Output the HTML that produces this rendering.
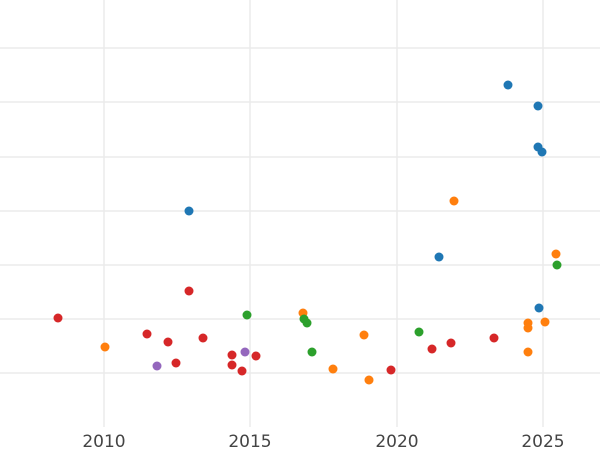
<!DOCTYPE html>
<html><head><style>body{margin:0;background:#fff}svg{display:block}</style></head><body>
<svg width="600" height="450" xmlns="http://www.w3.org/2000/svg">
<g stroke="#ebebeb" stroke-width="1.5">
<line x1="0" x2="600" y1="48" y2="48"/><line x1="0" x2="600" y1="102" y2="102"/>
<line x1="0" x2="600" y1="157" y2="157"/><line x1="0" x2="600" y1="211" y2="211"/>
<line x1="0" x2="600" y1="265" y2="265"/><line x1="0" x2="600" y1="319" y2="319"/>
<line x1="0" x2="600" y1="373" y2="373"/>
<line x1="104" x2="104" y1="0" y2="427"/><line x1="250" x2="250" y1="0" y2="427"/>
<line x1="397" x2="397" y1="0" y2="427"/><line x1="543" x2="543" y1="0" y2="427"/>
</g>
<g font-family="DejaVu Sans, sans-serif" font-size="17" fill="#444" text-anchor="middle">
<text x="104" y="447">2010</text><text x="250" y="447">2015</text><text x="397" y="447">2020</text><text x="543" y="447">2025</text>
</g>
<g fill="#1f77b4">
<circle cx="508" cy="85" r="4.5"/><circle cx="538" cy="106" r="4.5"/><circle cx="538" cy="147" r="4.5"/><circle cx="542" cy="152" r="4.5"/>
<circle cx="189" cy="211" r="4.5"/><circle cx="439" cy="257" r="4.5"/><circle cx="539" cy="308" r="4.5"/>
</g>
<g fill="#ff7f0e">
<circle cx="454" cy="201" r="4.5"/><circle cx="556" cy="254" r="4.5"/><circle cx="303" cy="313" r="4.5"/>
<circle cx="528" cy="323" r="4.5"/><circle cx="545" cy="322" r="4.5"/><circle cx="528" cy="328" r="4.5"/>
<circle cx="364" cy="335" r="4.5"/><circle cx="105" cy="347" r="4.5"/><circle cx="528" cy="352" r="4.5"/>
<circle cx="333" cy="369" r="4.5"/><circle cx="369" cy="380" r="4.5"/>
</g>
<g fill="#2ca02c">
<circle cx="557" cy="265" r="4.5"/><circle cx="247" cy="315" r="4.5"/><circle cx="304" cy="319" r="4.5"/>
<circle cx="307" cy="323" r="4.5"/><circle cx="419" cy="332" r="4.5"/><circle cx="312" cy="352" r="4.5"/>
</g>
<g fill="#d62728">
<circle cx="58" cy="318" r="4.5"/><circle cx="189" cy="291" r="4.5"/><circle cx="147" cy="334" r="4.5"/>
<circle cx="168" cy="342" r="4.5"/><circle cx="203" cy="338" r="4.5"/><circle cx="176" cy="363" r="4.5"/>
<circle cx="232" cy="355" r="4.5"/><circle cx="232" cy="365" r="4.5"/><circle cx="242" cy="371" r="4.5"/>
<circle cx="256" cy="356" r="4.5"/><circle cx="391" cy="370" r="4.5"/><circle cx="432" cy="349" r="4.5"/>
<circle cx="451" cy="343" r="4.5"/><circle cx="494" cy="338" r="4.5"/>
</g>
<g fill="#9467bd">
<circle cx="157" cy="366" r="4.5"/><circle cx="245" cy="352" r="4.5"/>
</g>
</svg>
</body></html>
